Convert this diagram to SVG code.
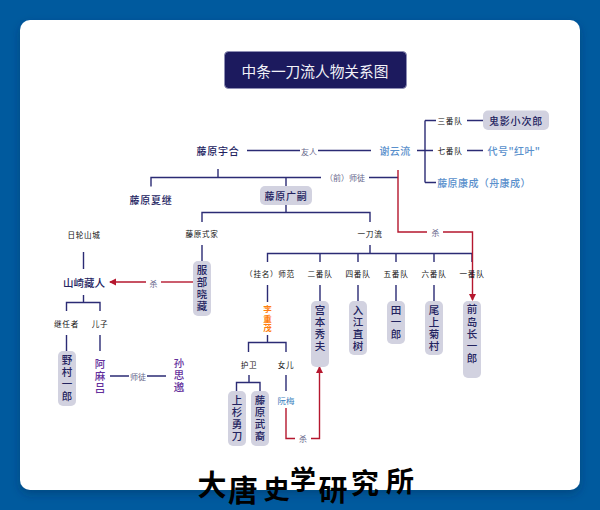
<svg xmlns="http://www.w3.org/2000/svg" width="600" height="510" viewBox="0 0 600 510">
<defs>
<filter id="sh" x="-5%" y="-5%" width="110%" height="112%"><feDropShadow dx="0" dy="4" stdDeviation="5" flood-color="#00254d" flood-opacity="0.35"/></filter>
<marker id="ah" markerUnits="userSpaceOnUse" markerWidth="8" markerHeight="8" refX="6" refY="3.5" orient="auto"><path d="M0 0L7 3.5L0 7Z" fill="#b5172e"/></marker>
</defs>
<style>
text{font-family:"Noto Sans CJK SC","Noto Sans",sans-serif;text-anchor:middle;dominant-baseline:central}
.l{fill:none;stroke:#2b2b74;stroke-width:1.4}
.r{fill:none;stroke:#b5172e;stroke-width:1.4}
.b{fill:#d2d2e0}
.n{fill:#111;font-size:7.600px;letter-spacing:.7px}
.d{fill:#23235f;font-size:10px;font-weight:500;letter-spacing:.8px}
.v{fill:#23235f;font-size:10.500px;font-weight:500;writing-mode:vertical-rl;letter-spacing:1.6px}
.e{fill:#66668a;font-size:8px}
.u{fill:#5a90cc;font-size:10px;font-weight:500;letter-spacing:.4px}
.p{fill:#64309c;font-size:10.500px;font-weight:500;writing-mode:vertical-rl;letter-spacing:1.5px}
.o{fill:#ff7f0e;font-size:8.500px;font-weight:700;writing-mode:vertical-rl;letter-spacing:1px}
</style>
<rect width="600" height="510" fill="#005a9e"/>
<rect x="20" y="20" width="560" height="470" rx="10" fill="#fff" filter="url(#sh)"/>
<g id="connectors">
<path class="l" d="M247 150.500H300M318 150.500H371M417 150.500H433M425 120.500V182.500M436 120.500H425M436 182.500H425M467 120.500H483M467 150.500H483"/>
<path class="l" d="M151 186.500V177.500H321M369 177.500H398M218 169V177.500M286 177.500V186M286 205V212.500M202 222V212.500H370V222"/>
<path class="l" d="M370 245V253M267.500 262V253.500H472M320 253.500V262M358 253.500V262M396 253.500V262M434 253.500V262M472 253.500V262"/>
<path class="l" d="M267.500 285V302M320 285V302M358 285V302M396 285V302M434 285V302M267.500 335V342.500M248.500 352V342.500H286V352M249 375V382.500M236.500 391V382.500H260V391M286 375V391"/>
<path class="l" d="M202 245V261M83.500 252V269M83.500 295V302.500M66.500 311V302.500H100V311M66.500 335V351M100 335V351M110 376H129M147 376H166"/>
<path class="r" d="M398 170V232H427M443 232H472.500V300" marker-end="url(#ah)"/>
<path class="r" d="M193 282H161"/><path class="r" d="M146 282H110" marker-end="url(#ah)"/>
<path class="r" d="M286 408V438.500H295"/><path class="r" d="M311 438.500H319.500V367" marker-end="url(#ah)"/>
</g>
<g id="edge-labels">
<text class="e" x="309" y="151">友人</text><text class="e" x="345" y="177.500">（前）师徒</text>
<text class="e" x="435.500" y="232">杀</text><text class="e" x="153.500" y="283">杀</text>
<text class="e" x="303" y="438.500">杀</text><text class="e" x="138" y="376">师徒</text>
</g>
<g id="title"><rect x="224.500" y="51.500" width="182" height="37" rx="4" fill="#1c1a5e" stroke="#8f8fb5"/><text x="315" y="70.500" font-size="14.700" fill="#f2f2f8">中条一刀流人物关系图</text></g>
<g id="n-yuhe"><text class="d" x="218" y="150">藤原宇合</text></g>
<g id="n-xieyunliu"><text class="u" x="395" y="150">谢云流</text></g>
<g id="n-3"><text class="n" x="450" y="120.500">三番队</text></g>
<g id="n-7"><text class="n" x="450" y="150.500">七番队</text></g>
<g id="n-guiying"><rect class="b" x="483" y="110.500" width="66" height="19.500" rx="5"/><text class="d" x="516" y="120">鬼影小次郎</text></g>
<g id="n-hongye"><text class="u" x="514" y="150">代号"红叶"</text></g>
<g id="n-kangcheng"><text class="u" x="484" y="182">藤原康成（舟康成）</text></g>
<g id="n-xiaji"><text class="d" x="151" y="199">藤原夏继</text></g>
<g id="n-guangsi"><rect class="b" x="260" y="186" width="52" height="19" rx="5"/><text class="d" x="286" y="195">藤原广嗣</text></g>
<g id="n-shijia"><text class="n" x="202" y="233">藤原式家</text></g>
<g id="n-yidaoliu"><text class="n" x="370" y="233">一刀流</text></g>
<g id="n-rilun"><text class="n" x="84" y="234">日轮山城</text></g>
<g id="n-shanqi"><text class="d" x="84" y="282" style="font-size:10.500px;letter-spacing:0">山崎藏人</text></g>
<g id="n-jiren"><text class="n" x="66.500" y="323">继任者</text></g>
<g id="n-erzi"><text class="n" x="100" y="323">儿子</text></g>
<g id="n-shifan"><text class="n" x="270" y="273">（挂名）师范</text></g>
<g id="n-t2"><text class="n" x="320" y="273">二番队</text></g>
<g id="n-t4"><text class="n" x="358" y="273">四番队</text></g>
<g id="n-t5"><text class="n" x="396" y="273">五番队</text></g>
<g id="n-t6"><text class="n" x="434" y="273">六番队</text></g>
<g id="n-t1"><text class="n" x="472" y="273">一番队</text></g>
<g id="n-fubu"><rect class="b" x="193" y="261" width="18" height="55" rx="5"/><text class="v" x="202" y="289">服部晓藏</text></g>
<g id="n-yecun"><rect class="b" x="58" y="351" width="18" height="55" rx="5"/><text class="v" x="67" y="379">野村一郎</text></g>
<g id="n-amalv"><text class="p" x="100" y="376.500">阿麻吕</text></g>
<g id="n-sunsimiao"><text class="p" x="179" y="375.500">孙思邈</text></g>
<g id="n-lichongmao"><text class="o" x="267.500" y="319">李重茂</text></g>
<g id="n-huwei"><text class="n" x="249" y="364">护卫</text></g>
<g id="n-nver"><text class="n" x="286" y="364">女儿</text></g>
<g id="n-ruanmei"><text x="286" y="400" font-size="8.500" fill="#3a80bd">阮梅</text></g>
<g id="n-shangshan"><rect class="b" x="228" y="391" width="18" height="55" rx="5"/><text class="v" x="237" y="419">上杉勇刀</text></g>
<g id="n-wuyi"><rect class="b" x="251" y="391" width="18" height="55" rx="5"/><text class="v" x="260" y="419">藤原武裔</text></g>
<g id="n-gongben"><rect class="b" x="311" y="301" width="18" height="66" rx="5"/><text class="v" x="320" y="328.500">宫本秀夫</text></g>
<g id="n-rujiang"><rect class="b" x="349" y="301" width="18" height="54" rx="5"/><text class="v" x="358" y="328.500">入江直树</text></g>
<g id="n-tian"><rect class="b" x="387" y="301" width="18" height="43" rx="5"/><text class="v" x="396" y="322.500">田一郎</text></g>
<g id="n-weishang"><rect class="b" x="425" y="301" width="18" height="54" rx="5"/><text class="v" x="434" y="328.500">尾上菊村</text></g>
<g id="n-qiandao"><rect class="b" x="463" y="301" width="18" height="77" rx="5"/><text class="v" x="472" y="334.500">前岛长一郎</text></g>
<g id="logo" fill="#000" font-weight="700"><text x="212" y="483" font-size="29">大</text><text x="243" y="488" font-size="30">唐</text><text x="276.500" y="487" font-size="26">史</text><text x="303" y="477" font-size="26">学</text><text x="333" y="488" font-size="29">研</text><text x="365" y="482" font-size="28">究</text><text x="400" y="480" font-size="28">所</text></g>
</svg>
